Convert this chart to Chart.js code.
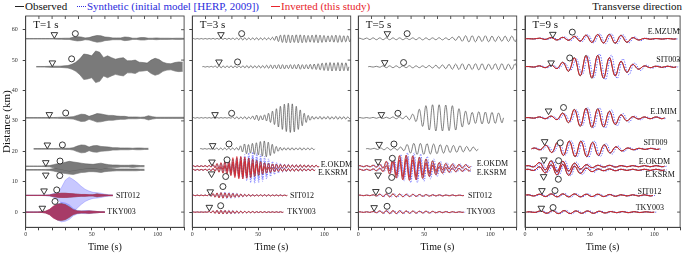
<!DOCTYPE html>
<html>
<head>
<meta charset="utf-8">
<script src="https://cdn.jsdelivr.net/npm/chart.js@4.4.1/dist/chart.umd.min.js"></script>
<style>
body { margin: 0; width: 685px; height: 253px; position: relative; overflow: hidden; background: #fff; font-family: "Liberation Serif", serif; }
canvas { position: absolute; left: 0; top: 0; }
.lg { position: absolute; top: 0; font-size: 11px; line-height: 12px; white-space: nowrap; }
.mk { position: absolute; top: 5.5px; width: 9px; height: 0; border-top: 1.2px solid; }
</style>
</head>
<body>
<span class="mk" style="left:15px;border-color:#222"></span>
<span class="lg" style="left:25px;color:#111">Observed</span>
<span class="mk" style="left:77px;border-top-style:dotted;border-color:#3030e0"></span>
<span class="lg" style="left:87px;color:#2b2bdc">Synthetic (initial model [HERP, 2009])</span>
<span class="mk" style="left:271px;border-color:#e8242c"></span>
<span class="lg" style="left:281px;color:#e8242c">Inverted (this study)</span>
<span class="lg" style="right:3px;color:#111">Transverse direction</span>
<canvas id="c0" width="685" height="253"></canvas>
<canvas id="c1" width="685" height="253"></canvas>
<canvas id="c2" width="685" height="253"></canvas>
<canvas id="c3" width="685" height="253"></canvas>
<script>
// stations, top to bottom
const stations = ["E.MZUM", "SIT003", "E.IMIM", "SIT009", "E.OKDM", "E.KSRM", "SIT012", "TKY003"];
const distances = [57.0, 47.8, 31.0, 20.8, 15.1, 13.9, 5.5, 0];
const periods = [1, 3, 5, 9];
const xLabelTicks = [0, 50, 100];
const yTicks = [0, 10, 20, 30, 40, 50, 60];

// T=1 s: envelope amplitude (km) every 3 s from trace start
const p1Start = [0, 8, 0, 6, 0, 0, 0, 0];
const p1Obs = [
    [0.1,0.1,0.1,0.1,0.1,0.1,0.1,0.1,0.15,0.15,0.2,0.2,0.5,0.7,0.6,0.3,0.4,0.8,1.1,1.0,0.6,0.5,0.3,0.3,0.3,0.6,0.5,0.2,0.2,0.4,0.4,0.2,0.2,0.3,0.2,0.2,0.2,0.15,0.2,0.2,0.15],
    [0.1,0.1,0.1,0.15,0.2,0.2,0.2,0.3,0.4,0.8,1.5,2.6,4.2,4.0,3.6,5.2,4.8,3.0,3.6,3.0,2.5,2.8,3.0,2.0,2.0,2.2,1.5,1.4,1.2,2.2,2.8,2.4,1.5,1.1,1.0,1.4,1.6,1.5],
    [0.1,0.1,0.1,0.1,0.1,0.1,0.1,0.1,0.15,0.2,0.2,0.3,0.4,0.8,1.2,1.1,0.5,0.9,1.4,1.3,1.0,0.8,0.8,0.6,0.5,0.5,0.3,0.3,0.3,0.2,0.3,0.7,0.4,0.2,0.2,0.2,0.2,0.2,0.2,0.2,0.2],
    [0.1,0.1,0.1,0.1,0.1,0.1,0.15,0.15,0.2,0.2,0.4,0.9,1.3,1.2,0.6,1.0,1.1,0.8,0.7,0.6,0.4,0.4,0.3,0.3,0.3,0.2,0.3,0.3,0.2,0.2],
    [0.1,0.1,0.1,0.1,0.1,0.15,0.2,0.5,0.8,1.0,1.3,1.6,1.4,1.2,1.0,0.8,0.7,0.6,0.8,1.0,0.7,0.5,0.4,0.4,0.3,0.3,0.3,0.4,0.3,0.2,0.2],
    [0.1,0.1,0.1,0.1,0.1,0.15,0.2,0.4,0.7,1.0,1.2,1.4,1.5,1.2,0.9,0.8,0.6,0.6,0.7,0.9,0.6,0.5,0.4,0.3,0.3,0.3,0.3,0.3,0.3,0.2,0.2],
    [0.05,0.05,0.05,0.05,0.05,0.05,0.1,0.4,0.6,0.7,0.7,0.6,0.5,0.4,0.3,0.3,0.2,0.2,0.5,0.3,0.2,0.1,0.1],
    [0.05,0.05,0.05,0.05,0.1,0.3,0.8,1.8,2.6,2.8,2.5,1.8,0.8,0.4,0.3,0.3,0.4,0.3,0.2,0.1,0.1]
];
const p1Syn = [null, null, null, null, null, null,
    [0.05,0.05,0.05,0.05,0.05,0.1,0.2,0.6,1.2,2.5,5.0,6.0,5.2,4.2,3.0,2.0,1.4,1.0,0.9,0.7,0.4,0.2,0.1],
    [0.05,0.05,0.05,0.05,0.05,0.2,0.6,1.6,2.6,3.2,3.0,2.4,1.2,0.6,0.4,0.5,0.5,0.3,0.2,0.1,0.1]
];
const p1Inv = [null, null, null, null, null, null,
    [0.05,0.05,0.05,0.05,0.05,0.05,0.1,0.4,0.6,0.7,0.7,0.6,0.5,0.4,0.3,0.3,0.2,0.2,0.4,0.3,0.2,0.1,0.1],
    [0.05,0.05,0.05,0.05,0.1,0.3,0.9,2.0,2.6,2.7,2.4,1.6,0.8,0.4,0.3,0.3,0.4,0.3,0.2,0.1,0.1]
];

// T=3 s: peak amplitude (km) of each cycle
const p2Start = [0, 7.6, 0, 5.8, 0, 0, 0, 0];
const p2Obs = [
    [0.1,0.1,0.1,0.1,0.1,0.15,0.15,0.2,0.2,0.2,0.25,0.3,0.4,0.35,0.3,0.3,0.35,0.3,0.3,0.3,0.5,0.9,1.2,1.3,1.3,1.2,1.3,1.3,1.2,1.1,1.2,1.3,1.2,1.1,1.0,1.1,1.2,1.1,1.0,1.0],
    [0.1,0.1,0.15,0.3,0.35,0.3,0.3,0.35,0.3,0.3,0.35,0.4,0.4,0.35,0.4,0.4,0.5,0.6,0.6,0.7,0.7,0.6,0.7,0.7,0.8,0.7,0.7,0.8,0.9,1.0,1.2,1.3,1.4,1.3,1.4,1.3,1.3],
    [0.1,0.1,0.1,0.1,0.1,0.1,0.1,0.1,0.1,0.1,0.3,0.35,0.3,0.4,0.3,0.6,0.9,0.7,1.0,1.5,2.2,3.0,3.8,4.5,4.8,4.6,3.8,2.6,1.5,0.8,0.5,0.4,0.5,0.4,0.5,0.4,0.5,0.4,0.4,0.3],
    [0.1,0.1,0.1,0.2,0.3,0.3,0.3,0.3,0.3,0.4,1.0,1.6,1.4,1.8,2.0,2.4,2.6,2.2,1.5,0.8,0.5,0.4,0.4,0.4,0.3,0.4,0.3,0.3,0.3],
    [0.15,0.15,0.15,0.2,0.2,0.5,0.8,1.0,1.4,1.8,2.4,2.8,3.0,2.8,2.6,2.4,2.0,1.6,1.2,1.0,0.8,0.7,0.6,0.5,0.5,0.4,0.4,0.5,0.4,0.4,0.3,0.3],
    [0.15,0.15,0.15,0.2,0.2,0.4,0.7,1.0,1.3,1.7,2.2,2.6,2.8,2.7,2.5,2.2,1.9,1.5,1.1,0.9,0.7,0.6,0.5,0.5,0.4,0.4,0.4,0.4,0.3,0.3,0.3],
    [0.1,0.1,0.1,0.1,0.3,0.6,0.8,0.9,0.8,0.7,0.6,0.5,0.4,0.3,0.3,0.2,0.2,0.2,0.2,0.2,0.15,0.15,0.15,0.1],
    [0.05,0.05,0.05,0.05,0.2,0.4,0.6,0.6,0.55,0.5,0.45,0.35,0.3,0.25,0.2,0.2,0.15,0.15,0.15,0.1,0.1,0.1,0.1]
];
const p2Syn = [null, null, null, null,
    [0.1,0.1,0.1,0.2,0.2,0.3,0.5,0.8,1.2,1.6,2.0,2.6,3.2,3.8,4.4,4.6,4.4,4.0,3.2,2.4,1.6,1.2,0.9,0.7,0.6,0.5,0.5,0.4,0.4,0.4,0.3,0.3],
    [0.1,0.1,0.1,0.2,0.2,0.3,0.4,0.7,1.0,1.4,1.9,2.4,3.0,3.6,4.2,4.4,4.2,3.8,3.0,2.2,1.5,1.1,0.8,0.6,0.5,0.5,0.4,0.4,0.4,0.3,0.3],
    [0.1,0.1,0.1,0.1,0.2,0.4,0.6,0.9,1.1,1.0,0.9,0.7,0.5,0.4,0.3,0.3,0.2,0.2,0.2,0.2,0.15,0.15,0.1,0.1],
    [0.05,0.05,0.05,0.05,0.15,0.3,0.5,0.6,0.65,0.6,0.5,0.4,0.3,0.25,0.2,0.2,0.15,0.15,0.1,0.1,0.1,0.1,0.1]
];
const p2Inv = [null, null, null, null,
    [0.15,0.15,0.15,0.2,0.3,0.6,0.9,1.2,1.6,2.2,2.8,3.2,3.2,3.0,2.6,2.2,1.8,1.4,1.0,0.8,0.7,0.6,0.5,0.5,0.4,0.4,0.4,0.4,0.4,0.3,0.3,0.3],
    [0.15,0.15,0.15,0.2,0.3,0.5,0.8,1.1,1.5,2.0,2.6,3.0,3.0,2.8,2.5,2.1,1.7,1.3,1.0,0.8,0.6,0.5,0.5,0.4,0.4,0.4,0.4,0.3,0.3,0.3,0.3],
    [0.1,0.1,0.1,0.1,0.3,0.6,0.8,0.9,0.8,0.7,0.6,0.5,0.4,0.3,0.3,0.25,0.2,0.2,0.2,0.2,0.15,0.15,0.15,0.1],
    [0.05,0.05,0.05,0.05,0.2,0.45,0.6,0.6,0.55,0.5,0.4,0.35,0.3,0.25,0.2,0.2,0.15,0.15,0.15,0.1,0.1,0.1,0.1]
];

// T=5 s
const p3Start = [0, 7.5, 0, 5.8, 0, 0, 0, 0];
const p3Obs = [
    [0.2,0.25,0.3,0.3,0.3,0.3,0.3,0.25,0.3,0.35,0.3,0.3,0.35,0.3,0.5,0.8,1.0,1.0,0.9,1.0,0.9,0.8,0.9,0.9],
    [0.1,0.15,0.3,0.3,0.3,0.3,0.35,0.3,0.3,0.4,0.5,0.6,0.8,0.9,1.0,0.9,1.0,1.0,0.9,1.0,1.0,0.9,1.0],
    [0.1,0.1,0.15,0.2,0.2,0.3,0.3,0.6,1.2,2.8,4.0,4.3,4.3,4.2,4.0,3.0,2.2,1.8,2.0,1.9,1.8,1.6],
    [0.1,0.2,0.3,0.4,0.4,0.6,1.4,1.8,1.8,1.7,1.6,1.4,1.2,1.1,1.0,0.8,0.6],
    [0.2,0.2,0.3,0.6,1.5,2.8,3.4,3.6,3.4,3.0,2.4,1.8,1.2,0.9,0.7,0.6,0.5],
    [0.2,0.2,0.3,0.5,1.3,2.6,3.2,3.4,3.2,2.8,2.2,1.6,1.1,0.8,0.6,0.5,0.4],
    [0.1,0.1,0.2,0.4,0.5,0.5,0.45,0.4,0.35,0.3,0.25,0.2,0.2,0.15,0.15,0.1],
    [0.1,0.1,0.2,0.4,0.5,0.5,0.45,0.4,0.35,0.3,0.3,0.25,0.2,0.2,0.15,0.1]
];
const p3Syn = [null, null, null, null,
    [0.2,0.2,0.3,0.5,1.4,2.8,3.8,4.4,4.4,4.0,3.2,2.4,1.6,1.2,0.9,0.7,0.6],
    [0.2,0.2,0.3,0.5,1.2,2.6,3.6,4.2,4.2,3.8,3.0,2.2,1.5,1.1,0.8,0.6,0.5],
    [0.1,0.1,0.2,0.4,0.6,0.6,0.5,0.45,0.4,0.35,0.3,0.25,0.2,0.15,0.15,0.1],
    [0.1,0.1,0.2,0.4,0.55,0.55,0.5,0.4,0.35,0.3,0.3,0.25,0.2,0.2,0.15,0.1]
];
const p3Inv = [null, null, null, null,
    [0.2,0.2,0.3,0.7,1.6,2.9,3.5,3.6,3.4,2.9,2.3,1.7,1.2,0.9,0.7,0.6,0.5],
    [0.2,0.2,0.3,0.6,1.4,2.7,3.3,3.5,3.3,2.8,2.2,1.6,1.1,0.8,0.6,0.5,0.4],
    [0.1,0.1,0.2,0.4,0.5,0.5,0.45,0.4,0.35,0.3,0.25,0.2,0.2,0.15,0.15,0.1],
    [0.1,0.1,0.2,0.4,0.5,0.5,0.45,0.4,0.35,0.3,0.3,0.25,0.2,0.2,0.15,0.1]
];

// T=9 s
const p4Start = [0, 0, 0, 5, 0, 0, 0, 1];
const p4Obs = [
    [0.05,0.2,0.4,0.5,0.8,1.2,1.4,1.5,1.2,0.4,0.15,0.1,0.1],
    [0.1,0.3,0.6,1.5,3.0,3.8,3.8,3.0,1.8,0.8,0.3,0.2,0.2],
    [0.1,0.3,0.6,1.6,2.8,3.2,3.0,2.2,1.0,0.4,0.3,0.3],
    [0.3,1.2,2.2,2.6,2.6,2.2,1.4,0.7,0.3,0.2,0.2],
    [0.2,1.2,1.8,1.6,1.0,0.5,0.3,0.3,0.2,0.2,0.2,0.2],
    [0.2,1.0,1.7,1.8,1.2,0.6,0.3,0.3,0.2,0.2,0.2,0.2],
    [0.2,0.4,0.5,0.5,0.5,0.4,0.4,0.3,0.2,0.2,0.2],
    [0.1,0.4,0.5,0.5,0.4,0.4,0.3,0.2,0.2,0.15,0.1]
];
const p4Syn = [
    [0.05,0.2,0.4,0.6,0.9,1.3,1.6,1.6,1.3,0.6,0.2,0.1,0.1],
    [0.1,0.3,0.5,1.2,2.6,3.6,4.2,3.8,2.6,1.2,0.5,0.3,0.2],
    [0.1,0.3,0.5,1.3,2.6,3.3,3.3,2.6,1.4,0.6,0.3,0.3],
    [0.3,1.0,2.0,2.6,2.8,2.5,1.7,0.9,0.4,0.2,0.2],
    [0.2,1.0,1.7,1.8,1.3,0.7,0.4,0.3,0.2,0.2,0.2,0.2],
    [0.2,0.9,1.6,1.9,1.5,0.8,0.4,0.3,0.2,0.2,0.2,0.2],
    [0.2,0.4,0.5,0.6,0.5,0.5,0.4,0.3,0.2,0.2,0.2],
    [0.1,0.4,0.5,0.55,0.45,0.4,0.3,0.25,0.2,0.15,0.1]
];
const p4Inv = [
    [0.05,0.2,0.4,0.5,0.8,1.2,1.4,1.4,1.1,0.4,0.15,0.1,0.1],
    [0.1,0.3,0.6,1.4,2.9,3.6,3.7,3.0,1.8,0.8,0.3,0.2,0.2],
    [0.1,0.3,0.6,1.5,2.7,3.1,2.9,2.1,1.0,0.4,0.3,0.3],
    [0.3,1.2,2.1,2.5,2.5,2.1,1.3,0.7,0.3,0.2,0.2],
    [0.2,1.2,1.7,1.6,1.0,0.5,0.3,0.3,0.2,0.2,0.2,0.2],
    [0.2,1.0,1.6,1.8,1.2,0.6,0.3,0.3,0.2,0.2,0.2,0.2],
    [0.2,0.4,0.5,0.5,0.5,0.4,0.4,0.3,0.2,0.2,0.2],
    [0.1,0.4,0.5,0.5,0.4,0.4,0.3,0.2,0.2,0.15,0.1]
];
// synthetic lags behind a little at longer periods (s)
const synLag = [0, 0, 1, 1.5];

// arrival marks: triangle and circle, time (s) and plotted distance (km)
const triTime = [
    [21.7,20.2,17.9,16.4,15.2,15.2,13.9,12.6],
    [21.7,20.2,17.2,15.4,14.9,14.6,13.6,12.9],
    [22.0,20.0,17.5,15.8,15.0,15.0,13.3,12.0],
    [21.5,20.2,18.2,15.2,14.6,14.4,13.1,12.6]
];
const triDist = [
    [58.4,49.1,32.1,22.1,16.3,12.2,7.0,1.3],
    [58.4,49.4,32.1,21.9,16.5,12.6,6.7,1.6],
    [58.7,49.2,32.1,22.3,16.6,12.2,6.8,1.5],
    [58.5,49.1,33.3,23.2,17.2,11.7,7.1,1.3]
];
const circTime = [
    [37.6,34.8,30.3,27.8,26.0,25.8,23.5,22.2],
    [37.4,34.3,29.8,27.8,26.3,25.3,23.2,21.5],
    [37.0,34.3,30.0,27.0,25.8,25.3,23.0,21.8],
    [36.6,34.6,29.8,27.3,26.0,25.8,23.2,21.7]
];
const circDist = [
    [58.7,50.4,32.6,22.1,16.8,12.0,7.3,3.5],
    [58.7,49.4,32.5,22.4,17.2,11.7,8.4,2.1],
    [58.7,49.2,32.5,22.4,17.7,11.4,7.1,1.9],
    [59.2,50.7,34.4,22.8,16.9,10.8,7.1,1.5]
];

const panels = [
    { start: p1Start, obs: p1Obs, syn: p1Syn, inv: p1Inv },
    { start: p2Start, obs: p2Obs, syn: p2Syn, inv: p2Inv },
    { start: p3Start, obs: p3Obs, syn: p3Syn, inv: p3Inv },
    { start: p4Start, obs: p4Obs, syn: p4Syn, inv: p4Inv }
];

// layout: plot area of each panel (px) and where the station names sit (s, km)
const plotLeft = [25.7, 192.3, 358.3, 525];
const plotRight = [184.1, 350.7, 516.7, 683.4];
const nameSpots = [
    [null, null, null, null, null, null, [68.4, 5.4], [61.8, 0]],
    [null, null, null, null, [97.3, 15.5], [95.2, 12.8], [74, 5.4], [72, 0]],
    [null, null, null, null, [89.7, 15.7], [89.7, 13.0], [83.1, 5.4], [82.1, 0]],
    [[95, 59.2], [101.6, 49.9], [97, 32.9], [91.6, 22.7], [88, 16.6], [93, 12.2], [87, 6.75], [85.6, 1.5]]
];

const FONT = '"Liberation Serif", "Times New Roman", serif';
const OBS = "#4a4a4a";
const SYN = "#4a4aff";
const INV = "#e8242c";

// one wiggle per cycle: crest then trough at the read amplitude
function cycles(base, t0, period, amps) {
    const pts = [{ x: t0, y: base }];
    amps.forEach((a, i) => {
        pts.push({ x: t0 + (i + 0.25) * period, y: base + a });
        pts.push({ x: t0 + (i + 0.75) * period, y: base - a });
    });
    pts.push({ x: t0 + amps.length * period, y: base });
    return pts;
}

function envelope(base, t0, step, env, sign) {
    return env.map((e, i) => ({ x: t0 + i * step, y: base + sign * e }));
}

function buildDatasets(p) {
    const panel = panels[p];
    const sets = [];
    const kinds = [
        { key: "syn", color: SYN, fill: "rgba(110,110,255,0.38)", edge: "rgba(90,90,255,0.6)", order: 3, lag: synLag[p] },
        { key: "obs", color: p === 3 ? "#222" : OBS, fill: "#7a7a7a", edge: "#555", order: 2, lag: 0 },
        { key: "inv", color: INV, fill: "rgba(185,35,95,0.72)", edge: "rgba(200,30,80,0.8)", order: 1, lag: 0 }
    ];
    distances.forEach((d, k) => {
        kinds.forEach((kind) => {
            const amps = panel[kind.key][k];
            if (!amps) return;
            const t0 = panel.start[k] + kind.lag;
            if (p === 0) {
                sets.push({
                    data: envelope(d, t0, 3, amps, 1),
                    borderColor: kind.edge, backgroundColor: kind.fill,
                    borderWidth: 0.5, fill: "+1", tension: 0, order: kind.order
                });
                sets.push({
                    data: envelope(d, t0, 3, amps, -1),
                    borderColor: kind.edge, borderWidth: 0.5, fill: false, tension: 0, order: kind.order
                });
            } else {
                sets.push({
                    data: cycles(d, t0, periods[p], amps),
                    borderColor: kind.color,
                    borderWidth: p === 3 ? 0.9 : 0.7,
                    borderDash: kind.key === "syn" ? [1.2, 1.4] : [],
                    tension: 0.4, fill: false, order: kind.order
                });
            }
        });
    });
    sets.push({
        data: triTime[p].map((t, i) => ({ x: t, y: triDist[p][i] })),
        showLine: false, pointStyle: "triangle", rotation: 180, pointRadius: 3.8,
        pointBackgroundColor: "#fff", pointBorderColor: "#222", pointBorderWidth: 0.9, order: 0
    });
    sets.push({
        data: circTime[p].map((t, i) => ({ x: t, y: circDist[p][i] })),
        showLine: false, pointStyle: "circle", pointRadius: 3,
        pointBackgroundColor: "#fff", pointBorderColor: "#222", pointBorderWidth: 0.9, order: 0
    });
    return sets;
}

const panelDecor = {
    id: "panelDecor",
    afterDraw(chart, args, opts) {
        const { ctx, chartArea: a, scales: { x, y } } = chart;
        ctx.save();
        ctx.strokeStyle = "#444";
        ctx.lineWidth = 0.9;
        ctx.strokeRect(a.left, a.top, a.right - a.left, a.bottom - a.top);
        ctx.beginPath();
        for (let v = 10; v < 120; v += 10) {
            const px = x.getPixelForValue(v);
            ctx.moveTo(px, a.top);
            ctx.lineTo(px, a.top + 3);
        }
        yTicks.forEach((v) => {
            const py = y.getPixelForValue(v);
            ctx.moveTo(a.right, py);
            ctx.lineTo(a.right - 3, py);
        });
        ctx.stroke();

        ctx.fillStyle = "#111";
        ctx.textBaseline = "middle";
        ctx.font = "11px " + FONT;
        ctx.fillText("T=" + periods[opts.p] + " s", a.left + 7.5, a.top + 9.5);

        ctx.font = "8px " + FONT;
        nameSpots[opts.p].forEach((spot, k) => {
            if (!spot) return;
            ctx.fillText(stations[k], x.getPixelForValue(spot[0]), y.getPixelForValue(spot[1]));
        });
        ctx.restore();
    }
};

panels.forEach((panel, p) => {
    const yAxisWidth = p === 0 ? plotLeft[0] : 3;
    new Chart(document.getElementById("c" + p), {
        type: "line",
        data: { datasets: buildDatasets(p) },
        plugins: [panelDecor],
        options: {
            responsive: false,
            animation: false,
            events: [],
            elements: { point: { radius: 0 } },
            layout: {
                padding: { left: plotLeft[p] - yAxisWidth, right: 685 - plotRight[p], top: 16, bottom: 0 }
            },
            plugins: {
                legend: { display: false },
                tooltip: { enabled: false },
                panelDecor: { p: p }
            },
            scales: {
                x: {
                    type: "linear", min: 0, max: 120,
                    afterFit: (s) => { s.height = 25.7; },
                    ticks: {
                        stepSize: 10, autoSkip: false, maxRotation: 0, padding: 1,
                        color: "#333", font: { family: FONT, size: 6 },
                        callback: (v) => (xLabelTicks.includes(v) ? v : "")
                    },
                    grid: { drawOnChartArea: false, tickLength: 3, color: "#444" },
                    border: { color: "#444" },
                    title: {
                        display: true, text: "Time (s)", color: "#111",
                        font: { family: FONT, size: 10 }, padding: { top: 0, bottom: 0 }
                    }
                },
                y: {
                    type: "linear", min: -5, max: 64.5,
                    afterFit: (s) => { s.width = yAxisWidth; },
                    afterBuildTicks: (s) => { s.ticks = yTicks.map((v) => ({ value: v })); },
                    ticks: {
                        display: p === 0, padding: 5, color: "#333",
                        font: { family: FONT, size: 6 }
                    },
                    grid: { drawOnChartArea: false, tickLength: 3, color: "#444" },
                    border: { color: "#444" },
                    title: {
                        display: p === 0, text: "Distance (km)", color: "#111",
                        font: { family: FONT, size: 11 }, padding: { top: 1, bottom: 0 }
                    }
                }
            }
        }
    });
});
</script>
</body>
</html>
